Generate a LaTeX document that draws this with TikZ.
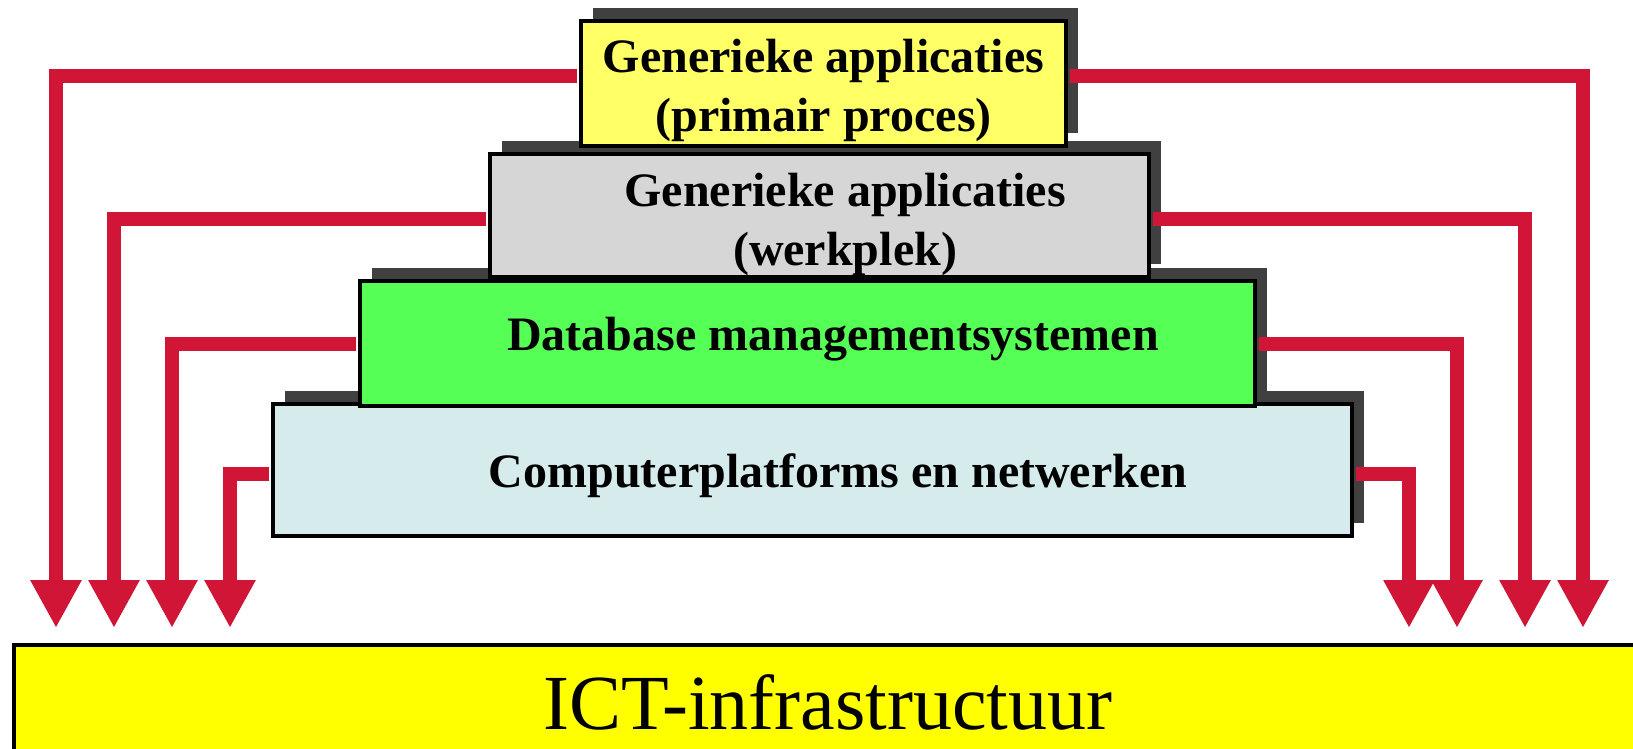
\documentclass[tikz,border=0pt]{standalone}
\usepackage{fontspec}
\setmainfont{Liberation Serif}
\usetikzlibrary{arrows.meta,shadows}
\definecolor{feedred}{RGB}{208,21,54}
\definecolor{shadowgrey}{RGB}{64,64,64}
\definecolor{topyellow}{RGB}{255,255,102}
\definecolor{wpgrey}{RGB}{214,214,214}
\definecolor{dbgreen}{RGB}{85,255,85}
\definecolor{pfblue}{RGB}{214,236,236}
\definecolor{ictyellow}{RGB}{255,255,0}
\begin{document}
\begin{tikzpicture}[x=1pt,y=-1pt,
  layer/.style={draw=black,line width=4pt,inner sep=0pt,
    general shadow={fill=shadowgrey,shadow xshift=12pt,shadow yshift=13pt}},
  lbl/.style={font=\bfseries\fontsize{48}{59}\selectfont,align=center},
  feed/.style={draw=feedred,line width=14pt,shorten <=2pt,
    -{Triangle[width=48pt,length=48pt]}}]
\useasboundingbox (0,0) rectangle (1633,749);
\node[draw=black,line width=4pt,fill=ictyellow,minimum width=1640pt,minimum height=130pt,
  anchor=north west] (ict) at (12,643) {};
\node[font=\fontsize{78}{90}\selectfont] (icttxt) at (828,702) {ICT-infrastructuur};
\node[layer,fill=pfblue,minimum width=1079pt,minimum height=132pt] (pf) at (812.5,470) {};
\node[lbl] (pftxt) at (838,476) {Computerplatforms en netwerken};
\node[layer,fill=dbgreen,minimum width=895pt,minimum height=125pt] (db) at (807.5,343.5) {};
\node[lbl] (dbtxt) at (833,339) {Database managementsystemen};
\node[layer,fill=wpgrey,minimum width=659pt,minimum height=123pt] (wp) at (819.5,215.5) {};
\node[lbl] (wptxt) at (845,224) {Generieke applicaties\\(werkplek)};
\node[layer,fill=topyellow,minimum width=485pt,minimum height=125pt] (pp) at (823.5,83.5) {};
\node[lbl] (pptxt) at (823.5,90) {Generieke applicaties\\(primair proces)};
\coordinate (l1) at (56,628);
\coordinate (l2) at (114,628);
\coordinate (l3) at (172,628);
\coordinate (l4) at (230,628);
\coordinate (r1) at (1583,628);
\coordinate (r2) at (1525,628);
\coordinate (r3) at (1457,628);
\coordinate (r4) at (1409,628);
\draw[feed] (pp.west |- 0,76) -| (l1);
\draw[feed] (pp.east |- 0,76) -| (r1);
\draw[feed] (wp.west |- 0,219) -| (l2);
\draw[feed] (wp.east |- 0,219) -| (r2);
\draw[feed] (db.west |- 0,344) -| (l3);
\draw[feed] (db.east |- 0,344) -| (r3);
\draw[feed] (pf.west |- 0,474) -| (l4);
\draw[feed] (pf.east |- 0,474) -| (r4);
\end{tikzpicture}
\end{document}
